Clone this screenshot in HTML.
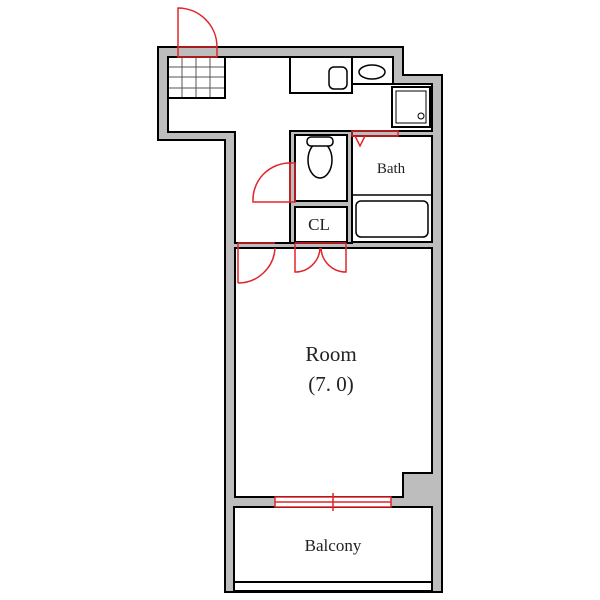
<!DOCTYPE html>
<html><head><meta charset="utf-8"><style>html,body{margin:0;padding:0;background:#fff}svg{display:block}</style></head><body>
<svg width="600" height="600" viewBox="0 0 600 600" xmlns="http://www.w3.org/2000/svg" font-family="'Liberation Serif',serif">
<rect width="600" height="600" fill="#fff"/>
<polygon points="158,47 403,47 403,75 442,75 442,592 225,592 225,140 158,140" fill="#bdbdbd" stroke="#000" stroke-width="2"/>
<polygon points="168,57 393,57 393,84 432,84 432,131 290,131 290,243 235,243 235,132 168,132" fill="#fff" stroke="#000" stroke-width="2"/>
<polygon points="235,248 432,248 432,473 403,473 403,497 235,497" fill="#fff" stroke="#000" stroke-width="2"/>
<rect x="234" y="507" width="198" height="75" fill="#fff" stroke="#000" stroke-width="2"/>
<rect x="234" y="582" width="198" height="9" fill="#fff" stroke="#000" stroke-width="2"/>
<g stroke="#555" stroke-width="1" fill="none">
<line x1="182" y1="57" x2="182" y2="98"/><line x1="196" y1="57" x2="196" y2="98"/><line x1="210" y1="57" x2="210" y2="98"/>
<line x1="168" y1="67" x2="225" y2="67"/><line x1="168" y1="77" x2="225" y2="77"/><line x1="168" y1="88" x2="225" y2="88"/>
<rect x="168" y="57" width="57" height="41" stroke="#000" stroke-width="2"/>
</g>
<g stroke="#000" stroke-width="2" fill="#fff">
<rect x="290" y="57" width="62" height="36"/>
<rect x="352" y="57" width="41" height="27"/>
<rect x="392" y="87" width="38" height="40"/>
<rect x="396" y="91" width="30" height="32" stroke-width="1"/>
<rect x="329" y="67" width="18" height="22" rx="5" stroke-width="1.5"/>
<ellipse cx="372" cy="72" rx="13" ry="7" stroke-width="1.5"/>
<circle cx="421" cy="116" r="3" stroke-width="1"/>
</g>
<g stroke="#000" stroke-width="2" fill="#fff">
<rect x="290" y="131" width="62" height="112" fill="#bdbdbd"/>
<rect x="295" y="135" width="52" height="66"/>
<rect x="295" y="207" width="52" height="35"/>
<rect x="352" y="136" width="80" height="106"/>
<line x1="352" y1="195" x2="432" y2="195" stroke-width="1.5"/>
<rect x="356" y="201" width="72" height="36" rx="5" stroke-width="1.5"/>
<ellipse cx="320" cy="160" rx="12" ry="18" stroke-width="1.5"/>
<rect x="307" y="137" width="26" height="9" rx="4" stroke-width="1.5"/>
</g>
<g stroke="#e0262a" stroke-width="1.5" fill="none">
<rect x="178" y="47" width="39" height="10"/>
<path d="M178,47 L178,8 A39,39 0 0 1 217,47"/>
<rect x="352" y="131" width="46" height="5"/>
<path d="M355,136 L360,146 L365,136"/>
<path d="M290,163 L290,202 L253,202 A37,37 0 0 1 290,163"/>
<rect x="290" y="163" width="5" height="39"/>
<path d="M238,243 L238,283 M238,243 L275,243 M275,248 A37,37 0 0 1 238,283"/>
<path d="M295,243 L295,272 A25,25 0 0 0 320,248 M346,243 L346,272 A25,25 0 0 1 321,248 M295,243 L346,243"/>
<rect x="275" y="497" width="116" height="10" fill="#fff"/>
<line x1="275" y1="502" x2="391" y2="502"/>
<line x1="333" y1="493" x2="333" y2="511"/>
</g>
<g fill="#222" text-anchor="middle">
<text x="331" y="361" font-size="21">Room</text>
<text x="331" y="391" font-size="21">(7. 0)</text>
<text x="319" y="230" font-size="17">CL</text>
<text x="391" y="173" font-size="15">Bath</text>
<text x="333" y="551" font-size="17">Balcony</text>
</g>
</svg>
</body></html>
